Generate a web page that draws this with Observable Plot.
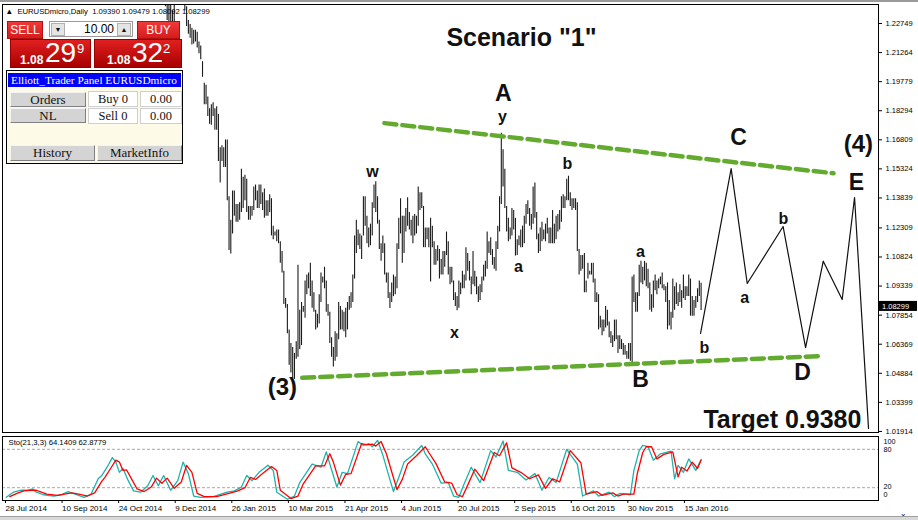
<!DOCTYPE html>
<html><head><meta charset="utf-8">
<script src="https://cdn.jsdelivr.net/npm/d3@7"></script>
<script src="https://cdn.jsdelivr.net/npm/@observablehq/plot@0.6"></script>
<style>
body{margin:0;background:#fff;}
#wrap{position:relative;width:918px;height:520px;overflow:hidden;background:#fff;font-family:"Liberation Sans",Arial,sans-serif;}
#main,#sto{position:absolute;left:0;}
#main{top:0}
#sto{top:434px}
#topband{position:absolute;left:0;top:0;width:918px;height:2px;background:#9a9a9a;}
#botband{position:absolute;left:0;top:516px;width:918px;height:4px;background:#d8d8d8;border-top:1px solid #a0a0a0;}
.tab{position:absolute;background:linear-gradient(#f03a3a,#d41c1c);color:#fff;font:12px "Liberation Sans",Arial,sans-serif;text-align:center;line-height:17px;border:1px solid #b01010;box-sizing:border-box;}
.pbox{position:absolute;background:linear-gradient(#e02020,#a80000);border:1px solid #900;box-sizing:border-box;color:#fff;}
.p1{position:absolute;font:bold 12px "Liberation Sans",Arial,sans-serif;}
.p2{position:absolute;font:28px "Liberation Sans",Arial,sans-serif;}
.p3{position:absolute;font:13px "Liberation Sans",Arial,sans-serif;}
.spin{position:absolute;border:1px solid #9a9a9a;background:#fff;box-sizing:border-box;}
.sbtn{position:absolute;top:1px;width:14px;height:13px;background:#e4e4e4;border:1px solid #b0b0b0;box-sizing:border-box;font-size:7px;line-height:12px;text-align:center;color:#111;}
.sval{position:absolute;right:18px;top:0;font:12px "Liberation Sans",Arial,sans-serif;line-height:15px;color:#000;}
#panel{position:absolute;left:6px;top:70px;width:177px;height:94px;border:1px solid #000;background:#fdfbe8;box-sizing:border-box;}
#ptitle{position:absolute;left:1px;top:2px;width:173px;height:14px;background:#0000ff;color:#fff;font:11.3px "Liberation Serif","Times New Roman",serif;line-height:14px;padding-left:3px;box-sizing:border-box;white-space:nowrap;overflow:hidden;}
.btn{position:absolute;background:#d4d4d4;border:1px solid;border-color:#f4f4f4 #808080 #808080 #f4f4f4;box-sizing:border-box;font:13px "Liberation Serif","Times New Roman",serif;text-align:center;color:#111;}
.cell{position:absolute;background:#fff;border:1px solid #cfcfcf;box-sizing:border-box;font:12.5px "Liberation Serif","Times New Roman",serif;text-align:center;color:#111;}
</style>
</head><body>
<div id="wrap">
  <div id="main"></div>
  <div id="sto"></div>
  <div id="topband"></div>
  <div id="botband"></div>
  <div class="tab" style="left:7px;top:21px;width:36px;height:18px">SELL</div>
  <div class="spin" style="left:49px;top:21px;width:84px;height:16px">
    <div class="sbtn" style="left:1px">&#9660;</div>
    <div class="sval">10.00</div>
    <div class="sbtn" style="right:1px">&#9650;</div>
  </div>
  <div class="tab" style="left:137px;top:21px;width:43px;height:18px">BUY</div>
  <div class="pbox" style="left:10px;top:39px;width:81px;height:29px">
    <span class="p1" style="left:9px;top:13px">1.08</span><span class="p2" style="left:34px;top:-3px">29</span><span class="p3" style="left:66px;top:1px">9</span>
  </div>
  <div class="pbox" style="left:94px;top:39px;width:88px;height:29px">
    <span class="p1" style="left:12px;top:13px">1.08</span><span class="p2" style="left:37px;top:-3px">32</span><span class="p3" style="left:68px;top:1px">2</span>
  </div>
  <div id="panel">
    <div id="ptitle">Elliott_Trader Panel EURUSDmicro</div>
    <div class="btn" style="left:3px;top:21px;width:76px;height:15px;line-height:13px">Orders</div>
    <div class="cell" style="left:81px;top:20px;width:50px;height:16px;line-height:15px">Buy 0</div>
    <div class="cell" style="left:133px;top:20px;width:42px;height:16px;line-height:15px">0.00</div>
    <div class="btn" style="left:3px;top:37px;width:76px;height:15px;line-height:13px">NL</div>
    <div class="cell" style="left:81px;top:37px;width:50px;height:16px;line-height:15px">Sell 0</div>
    <div class="cell" style="left:133px;top:37px;width:42px;height:16px;line-height:15px">0.00</div>
    <div class="btn" style="left:3px;top:74px;width:85px;height:16px;line-height:14px">History</div>
    <div class="btn" style="left:90px;top:74px;width:85px;height:16px;line-height:14px">MarketInfo</div>
  </div>
</div>
<script>
// ---------- data ----------
const symbolLine = "\u25B2\u00a0\u00a0EURUSDmicro,Daily\u00a0\u00a01.09390\u00a01.09479\u00a01.08092\u00a01.08299";
const lastClose = 1.08299;
const firstBarIndex = 90; // bar index of first listed bar (1 Dec 2014); index 0 = 28 Jul 2014

const highs = [
 1.2500,1.2470,1.2390,1.2460,1.2390,1.2340,1.2450,1.2460,1.2460,1.2470,
 1.2480,1.2570,1.2500,1.2360,1.2290,1.2270,1.2250,1.2240,1.2240,1.2230,
 1.2180,1.2160,1.2080,1.1970,1.1960,1.1900,1.1840,1.1860,1.1870,1.1840,
 1.1850,1.1810,1.1640,1.1650,1.1640,1.1680,1.1680,1.1390,1.1270,1.1420,
 1.1420,1.1350,1.1350,1.1360,1.1530,1.1490,1.1500,1.1480,1.1340,1.1340,
 1.1340,1.1440,1.1450,1.1420,1.1450,1.1450,1.1410,1.1430,1.1370,1.1370,
 1.1400,1.1380,1.1240,1.1210,1.1220,1.1220,1.1160,1.1110,1.1010,1.0870,
 1.0840,1.0710,1.0640,1.0620,1.0590,1.0650,1.1040,1.0810,1.0850,1.0830,
 1.0960,1.0990,1.1000,1.1050,1.0960,1.0900,1.0810,1.0790,1.0890,1.1000,
 1.0980,1.1030,1.0960,1.0840,1.0800,1.0670,1.0620,1.0700,1.0690,1.0850,
 1.0830,1.0810,1.0800,1.0820,1.0850,1.0880,1.0900,1.0990,1.1190,1.1270,
 1.1220,1.1200,1.1190,1.1390,1.1390,1.1290,1.1230,1.1250,1.1360,1.1450,
 1.1467,1.1390,1.1270,1.1150,1.1190,1.1150,1.1000,1.1000,1.0900,1.0950,
 1.0990,1.0980,1.1150,1.1280,1.1380,1.1290,1.1290,1.1330,1.1385,1.1310,
 1.1270,1.1290,1.1300,1.1290,1.1440,1.1410,1.1410,1.1340,1.1230,1.1230,
 1.1230,1.1280,1.1240,1.1160,1.1120,1.1140,1.1120,1.1070,1.1110,1.1110,
 1.1210,1.1160,1.1030,1.1030,1.0960,1.0900,1.0880,1.0960,1.0950,1.1010,
 1.0990,1.1130,1.1100,1.1060,1.0980,1.1110,1.1010,1.0980,1.0930,1.0940,
 1.0980,1.1040,1.1060,1.1210,1.1160,1.1180,1.1120,1.1080,1.1160,1.1240,
 1.1390,1.1714,1.1630,1.1530,1.1340,1.1280,1.1230,1.1330,1.1320,1.1280,
 1.1170,1.1190,1.1220,1.1240,1.1290,1.1350,1.1370,1.1330,1.1300,1.1440,
 1.1460,1.1310,1.1200,1.1230,1.1260,1.1220,1.1250,1.1280,1.1230,1.1230,
 1.1320,1.1250,1.1290,1.1300,1.1320,1.1390,1.1400,1.1390,1.1480,1.1495,
 1.1410,1.1380,1.1380,1.1380,1.1360,1.1120,1.1090,1.1090,1.1100,1.0960,
 1.1050,1.1010,1.1050,1.1050,1.0970,1.0900,1.0890,1.0780,1.0760,1.0760,
 1.0830,1.0810,1.0750,1.0700,1.0680,1.0760,1.0760,1.0680,1.0680,1.0660,
 1.0640,1.0630,1.0600,1.0640,1.0640,1.0980,1.0990,1.0900,1.0900,1.1040,
 1.1060,1.1030,1.1060,1.1050,1.1020,1.0950,1.0890,1.0960,1.0990,1.0960,
 1.0970,1.0980,1.1000,1.0940,1.0930,1.0950,1.0860,1.0800,1.0970,1.0930,
 1.0950,1.0900,1.0940,1.0910,1.0990,1.0930,1.0930,1.0990,1.0970,1.0880,
 1.0860,1.0880,1.0920,1.0960,1.0948
];
const lows = [
 1.2420,1.2360,1.2290,1.2280,1.2270,1.2247,1.2250,1.2370,1.2380,1.2400,
 1.2390,1.2420,1.2340,1.2260,1.2220,1.2200,1.2165,1.2170,1.2180,1.2150,
 1.2120,1.2090,1.2000,1.1860,1.1860,1.1800,1.1760,1.1755,1.1800,1.1730,
 1.1730,1.1570,1.1460,1.1570,1.1540,1.1540,1.1370,1.1115,1.1098,1.1200,
 1.1290,1.1260,1.1260,1.1270,1.1310,1.1330,1.1370,1.1310,1.1270,1.1270,
 1.1290,1.1320,1.1370,1.1330,1.1330,1.1350,1.1320,1.1280,1.1290,1.1290,
 1.1310,1.1190,1.1170,1.1190,1.1160,1.1150,1.1050,1.1000,1.0840,1.0820,
 1.0690,1.0530,1.0490,1.0460,1.0457,1.0560,1.0570,1.0610,1.0630,1.0800,
 1.0770,1.0890,1.0920,1.0880,1.0820,1.0800,1.0710,1.0720,1.0740,1.0850,
 1.0950,1.0920,1.0800,1.0780,1.0640,1.0570,1.0520,1.0550,1.0570,1.0660,
 1.0710,1.0710,1.0700,1.0670,1.0710,1.0810,1.0820,1.0850,1.0970,1.1100,
 1.1140,1.1120,1.1070,1.1190,1.1240,1.1150,1.1130,1.1140,1.1190,1.1330,
 1.1310,1.1250,1.1120,1.1060,1.1100,1.0990,1.0950,1.0870,1.0819,1.0850,
 1.0880,1.0890,1.0920,1.1120,1.1200,1.1050,1.1100,1.1210,1.1240,1.1220,
 1.1190,1.1150,1.1190,1.1200,1.1240,1.1320,1.1330,1.1130,1.1130,1.1170,
 1.1130,1.0955,1.1130,1.1040,1.1040,1.1060,1.0970,1.0990,1.0990,1.1030,
 1.1090,1.0990,1.0940,1.0950,1.0860,1.0830,1.0808,1.0820,1.0890,1.0920,
 1.0920,1.0960,1.1010,1.0960,1.0890,1.0940,1.0930,1.0890,1.0850,1.0860,
 1.0900,1.0960,1.0980,1.1020,1.1100,1.1090,1.1040,1.1020,1.1010,1.1120,
 1.1210,1.1350,1.1440,1.1330,1.1210,1.1160,1.1170,1.1190,1.1220,1.1087,
 1.1090,1.1140,1.1130,1.1130,1.1150,1.1250,1.1300,1.1240,1.1220,1.1250,
 1.1280,1.1170,1.1100,1.1110,1.1160,1.1170,1.1160,1.1200,1.1150,1.1150,
 1.1150,1.1150,1.1170,1.1210,1.1220,1.1260,1.1330,1.1330,1.1370,1.1370,
 1.1340,1.1320,1.1330,1.1320,1.1110,1.0990,1.1010,1.1020,1.0900,1.0900,
 1.0970,1.0990,1.0990,1.0950,1.0850,1.0850,1.0710,1.0720,1.0680,1.0700,
 1.0720,1.0730,1.0670,1.0640,1.0620,1.0650,1.0660,1.0590,1.0610,1.0610,
 1.0580,1.0580,1.0560,1.0560,1.0550,1.0524,1.0850,1.0800,1.0800,1.0880,
 1.0950,1.0940,1.0960,1.0930,1.0920,1.0810,1.0800,1.0820,1.0910,1.0890,
 1.0920,1.0940,1.0920,1.0910,1.0850,1.0710,1.0730,1.0710,1.0770,1.0810,
 1.0840,1.0830,1.0850,1.0820,1.0870,1.0860,1.0880,1.0880,1.0780,1.0780,
 1.0780,1.0820,1.0850,1.0880,1.0809
];

const priceTicks = [1.01914,1.03399,1.04884,1.06369,1.07854,1.09339,1.10824,1.12309,1.13839,1.15324,1.16809,1.18294,1.19779,1.21264,1.22749];
const dateTickIdx = [0,32,64,96,128,160,192,224,256,288,320,352,384];
const dateTickLabels = ["28 Jul 2014","10 Sep 2014","24 Oct 2014","9 Dec 2014","26 Jan 2015","10 Mar 2015","21 Apr 2015","4 Jun 2015","20 Jul 2015","2 Sep 2015","16 Oct 2015","30 Nov 2015","15 Jan 2016"];

// Elliott-wave forecast path (bar index, price)
const projIdx = [393.7,411.0,420.1,440.4,453.1,463.1,473.8,480.8,488.7];
const projPrice = [1.0692,1.1534,1.0947,1.1238,1.0620,1.1061,1.0865,1.1386,1.0207];
// triangle trendlines
const upperIdx = [214.9,468.9], upperPrice = [1.1766,1.1510];
const lowerIdx = [168.4,460.6], lowerPrice = [1.0465,1.0576];

// wave labels
const bigText  = ["A","B","C","D","E"];
const bigIdx   = [282.2,359.7,415.2,451.4,481.9];
const bigPrice = [1.18765,1.04159,1.16518,1.04516,1.14220];
const degText  = ["(3)","(4)"];
const degIdx   = [157.2,483.0];
const degPrice = [1.03750,1.16161];
const smallText  = ["w","x","y","a","b","a","b","a","b"];
const smallIdx   = [208.1,254.5,281.7,290.7,318.4,359.7,395.9,418.6,440.6];
const smallPrice = [1.14884,1.06661,1.17693,1.10057,1.15343,1.10798,1.05895,1.08449,1.12484];
const titleText = 'Scenario "1"', titleIdx = 292.4, titlePrice = 1.21574;
const targetText = "Target 0.9380", targetIdx = 440.0, targetPrice = 1.02065;

// Stochastic(21,3,3)
const stoTitle = "Sto(21,3,3) 64.1409 62.8779";
const stoKIdx = [1,5,9,13,16,18,22,28,32,36,40,45,49,53,55,58,61,63,65,67,70,73,77,81,84,87,90,94,98,101,104,107,111,118,126,130,134,137,140,144,149,152,154,160,164,167,174,179,182,184,188,191,194,200,203,206,208,211,214,217,220,223,226,231,236,238,242,247,251,254,257,260,264,269,275,278,282,285,290,295,300,304,308,312,318,324,327,333,336,342,345,348,354,356,359,361,364,367,371,377,379,381,384,387,391,394];
const stoKVal = [5,13,16,16,18,13,9,7,9,14,10,5,10,34,39,52,67,60,44,50,31,15,13,23,39,23,39,16,31,60,42,7,5,6,13,15,21,39,31,44,55,47,13,2,7,28,57,52,76,57,21,44,42,92,86,89,84,94,71,42,14,36,60,71,86,73,57,27,28,7,5,26,52,28,78,68,93,47,44,32,42,16,36,28,80,57,7,15,7,13,6,11,9,47,78,86,84,63,73,77,34,55,44,65,47,64.14];
const stoDIdx = [3,7,11,15,18,20,24,30,34,38,42,47,51,55,57,60,63,65,67,69,72,75,79,83,86,89,92,96,100,103,106,109,113,120,128,132,136,139,142,146,151,154,156,162,166,169,176,181,184,186,190,193,196,202,205,208,210,213,216,219,222,225,228,233,238,240,244,249,253,256,259,262,266,271,277,280,284,287,292,297,302,306,310,314,320,326,329,335,338,344,347,350,356,358,361,363,366,369,373,378,381,383,386,389,392,394];
const stoDVal = [6,11,15,16,16,14,10,8,10,12,10,7,12,30,37,50,63,60,47,48,33,18,14,21,35,27,35,19,29,55,44,11,6,6,12,15,20,36,33,42,53,47,16,3,7,26,54,54,73,60,24,41,42,89,87,88,85,92,73,45,17,33,57,70,84,75,58,29,27,9,6,24,49,31,75,70,90,51,44,34,40,19,34,29,78,59,10,14,8,12,7,10,10,43,75,84,84,65,72,76,37,52,46,60,50,62.88];
const stoLevels = [20,80];
const stoLabelVal = [100,80,20,0];

// ---------- build ----------
const bars = highs.map((h,i)=>({i:firstBarIndex+i, h, l:lows[i]}));
const proj = projIdx.map((x,i)=>({x, y:projPrice[i]}));
const upper = upperIdx.map((x,i)=>({x, y:upperPrice[i]}));
const lower = lowerIdx.map((x,i)=>({x, y:lowerPrice[i]}));
const big = bigText.map((t,i)=>({t, x:bigIdx[i], y:bigPrice[i]}));
const deg = degText.map((t,i)=>({t, x:degIdx[i], y:degPrice[i]}));
const small = smallText.map((t,i)=>({t, x:smallIdx[i], y:smallPrice[i]}));
const stoK = stoKIdx.map((x,i)=>({x, v:stoKVal[i]}));
const stoD = stoDIdx.map((x,i)=>({x, v:stoDVal[i]}));

const W = 918, mL = 2, mR = 40;
const pxPerBar = 1.768, bar0px = 4;
const xDomain = [(mL - bar0px)/pxPerBar, (W - mR - bar0px)/pxPerBar];
const FONT = '"Liberation Sans",Arial,sans-serif';
const green = "#62ab2e";

const mainChart = Plot.plot({
  width: W, height: 434, marginLeft: mL, marginRight: mR, marginTop: 4, marginBottom: 2,
  x: {domain: xDomain, axis: null},
  y: {domain: [1.01860, 1.23719], axis: null},
  style: {fontFamily: FONT, background: "transparent", overflow: "visible"},
  marks: [
    Plot.ruleX(bars, {x: "i", y1: "l", y2: "h", stroke: "#1b1b1b", strokeWidth: 1.1, clip: true}),
    Plot.line(upper, {x: "x", y: "y", stroke: green, strokeWidth: 4.5, strokeDasharray: "12,6"}),
    Plot.line(lower, {x: "x", y: "y", stroke: green, strokeWidth: 4.5, strokeDasharray: "12,6"}),
    Plot.line(proj, {x: "x", y: "y", stroke: "#111", strokeWidth: 1.2}),
    Plot.text(big, {x: "x", y: "y", text: "t", fontSize: 23, fontWeight: "bold", fill: "#111", textAnchor: "middle", lineAnchor: "bottom"}),
    Plot.text(deg, {x: "x", y: "y", text: "t", fontSize: 24, fontWeight: "bold", fill: "#111", textAnchor: "middle", lineAnchor: "bottom"}),
    Plot.text(small, {x: "x", y: "y", text: "t", fontSize: 16, fontWeight: "bold", fill: "#111", textAnchor: "middle", lineAnchor: "bottom"}),
    Plot.text([titleText], {x: titleIdx, y: titlePrice, text: d => d, fontSize: 25, fontWeight: "bold", fill: "#111", textAnchor: "middle", lineAnchor: "bottom"}),
    Plot.text([targetText], {x: targetIdx, y: targetPrice, text: d => d, fontSize: 25, fontWeight: "bold", fill: "#111", textAnchor: "middle", lineAnchor: "bottom"}),
    Plot.text([symbolLine], {frameAnchor: "top-left", text: d => d, dx: 3, dy: 4, fontSize: 7.7, fill: "#000", lineAnchor: "top", textAnchor: "start"}),
    Plot.axisY({anchor: "right", ticks: priceTicks, tickFormat: d => d.toFixed(5), tickSize: 3, tickPadding: 4, fontSize: 7.5, fill: "#000", textAnchor: "start"}),
    Plot.frame({stroke: "#000"})
  ]
});
document.getElementById("main").appendChild(mainChart);

// current price marker on the right axis (placed through the y scale)
{
  const yy = mainChart.scale("y").apply(lastClose);
  const svg = d3.select(mainChart);
  const x0 = W - mR + 1;
  svg.append("rect").attr("x", x0).attr("y", yy - 5).attr("width", mR - 2).attr("height", 10).attr("fill", "#000");
  svg.append("text").attr("x", x0 + 3).attr("y", yy + 3).attr("fill", "#fff")
    .attr("text-anchor", "start").attr("font-size", 7.5).attr("font-family", FONT).text(lastClose.toFixed(5));
}

const labelMap = new Map(dateTickIdx.map((d,i)=>[d, dateTickLabels[i]]));
const stoChart = Plot.plot({
  width: W, height: 86, marginLeft: mL, marginRight: mR, marginTop: 2, marginBottom: 20,
  x: {domain: xDomain, axis: null},
  y: {domain: [0, 100], axis: null},
  style: {fontFamily: FONT, background: "transparent", overflow: "visible"},
  marks: [
    Plot.ruleY(stoLevels, {stroke: "#a8a8a8", strokeDasharray: "3,2"}),
    Plot.line(stoK, {x: "x", y: "v", stroke: "#20b2aa", strokeWidth: 1.3, clip: true}),
    Plot.line(stoD, {x: "x", y: "v", stroke: "#ff0000", strokeWidth: 1.3, clip: true}),
    Plot.text([stoTitle], {frameAnchor: "top-left", text: d => d, dx: 6, dy: 3, fontSize: 7.7, fill: "#000", lineAnchor: "top", textAnchor: "start"}),
    Plot.text(stoLabelVal.filter(v => v === 100), {y: d => d, text: d => String(d), frameAnchor: "right", dx: 5, dy: 5.5, fontSize: 7.2, fill: "#000", textAnchor: "start"}),
    Plot.text(stoLabelVal.filter(v => v === 80), {y: d => d, text: d => String(d), frameAnchor: "right", dx: 5, fontSize: 7.2, fill: "#000", textAnchor: "start"}),
    Plot.text(stoLabelVal.filter(v => v === 20), {y: d => d, text: d => String(d), frameAnchor: "right", dx: 5, dy: -1, fontSize: 7.2, fill: "#000", textAnchor: "start"}),
    Plot.text(stoLabelVal.filter(v => v === 0), {y: d => d, text: d => String(d), frameAnchor: "right", dx: 5, dy: -6, fontSize: 7.2, fill: "#000", textAnchor: "start"}),
    Plot.axisX({anchor: "bottom", ticks: dateTickIdx, tickFormat: d => labelMap.get(d), tickSize: 3, tickPadding: 2, textAnchor: "start", dx: 1, fontSize: 8, fill: "#000"}),
    Plot.frame({stroke: "#000"})
  ]
});
document.getElementById("sto").appendChild(stoChart);
</script>
</body></html>
